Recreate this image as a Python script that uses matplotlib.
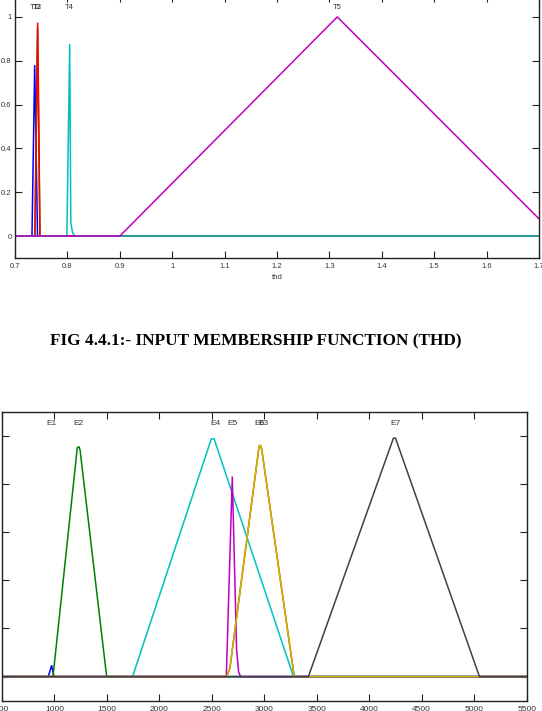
import matplotlib
matplotlib.use("Agg")
import matplotlib.pyplot as plt
import numpy as np

# ---------------- data: THD input membership functions ----------------
thd_range = [0.7, 1.7]
T1_x = [0.7, 0.7324, 0.7376, 0.7430, 1.7]
T1_y = [0, 0, 0.78, 0, 0]
T2_x = [0.7, 0.7380, 0.7430, 0.7475, 1.7]
T2_y = [0, 0, 0.95, 0, 0]
T3_x = [0.7, 0.7380, 0.7433, 0.7477, 1.7]
T3_y = [0, 0, 0.974, 0, 0]
T4_x = [0.7, 0.7990, 0.8044, 0.8065, 0.8100, 0.8145, 1.7]
T4_y = [0, 0, 0.876, 0.06, 0.015, 0, 0]
T5_x = [0.7, 0.9, 1.315, 1.733]
T5_y = [0, 0, 1.0, 0]
thd_labels = ["T1", "T2", "T3", "T4", "T5"]
thd_label_x = [0.7376, 0.7415, 0.7433, 0.8044, 1.315]

# ---------------- data: second input membership functions ----------------
e_range = [500, 5500]
E1_x = [500, 942, 974, 996, 5500]
E1_y = [0, 0, 0.047, 0, 0]
E2_x = [500, 987, 1218, 1235, 1245, 1498, 5500]
E2_y = [0, 0, 0.95, 0.955, 0.94, 0, 0]
E3_x = [500, 2642, 2673, 2950, 2962, 2975, 3285, 5500]
E3_y = [0, 0, 0.037, 0.955, 0.961, 0.945, 0, 0]
E4_x = [500, 1745, 2495, 2522, 3278, 5500]
E4_y = [0, 0, 0.987, 0.987, 0, 0]
E5_x = [500, 2638, 2695, 2713, 2736, 2755, 2774, 5500]
E5_y = [0, 0, 0.831, 0.515, 0.113, 0.02, 0, 0]
E6_x = [500, 2642, 2673, 2950, 2962, 2975, 3285, 5500]
E6_y = [0, 0, 0.037, 0.955, 0.961, 0.945, 0, 0]
E7_x = [500, 3420, 4230, 4250, 5050, 5500]
E7_y = [0, 0, 0.99, 0.99, 0, 0]
e_labels = ["E1", "E2", "E3", "E4", "E5", "E6", "E7"]
e_label_x = [974, 1228, 2995, 2530, 2695, 2950, 4252]

caption = "FIG 4.4.1:- INPUT MEMBERSHIP FUNCTION (THD)"

# MATLAB classic colour order
mcolors = [(0, 0, 1), (0, 0.5, 0), (1, 0, 0), (0, 0.75, 0.75),
           (0.75, 0, 0.75), (0.75, 0.75, 0), (0.25, 0.25, 0.25)]

tick_font = ['Liberation Sans', 'DejaVu Sans']
plt.rcParams['font.family'] = tick_font

fig = plt.figure(figsize=(5.42, 7.11), dpi=100)
W, H = 542.0, 711.0


def style_axes(ax, fs, pad):
    for s in ax.spines.values():
        s.set_linewidth(1.0)
        s.set_color('#222222')
    ax.tick_params(direction='in', length=4.8, width=0.8, top=True, right=True,
                   labelsize=fs, pad=pad, colors='#222222', labelcolor='#333333')


# ---------------- top axes ----------------
ax1 = fig.add_axes([15 / W, (H - 258) / H, 524 / W, 263 / H])
curves1 = [(T1_x, T1_y), (T2_x, T2_y), (T3_x, T3_y), (T4_x, T4_y), (T5_x, T5_y)]
for i, (xs, ys) in enumerate(curves1):
    ax1.plot(xs, ys, color=mcolors[i], lw=1.1, solid_joinstyle='miter')
for lab, lx in zip(thd_labels, thd_label_x):
    ax1.text(lx, 1.045, lab, ha='center', va='center', fontsize=5.5, color='#333333')
ax1.set_xlim(*thd_range)
ax1.set_ylim(-0.1, 1.1)
ax1.set_xticks(np.round(np.arange(0.7, 1.71, 0.1), 1))
ax1.set_xticklabels(["0.7", "0.8", "0.9", "1", "1.1", "1.2", "1.3", "1.4", "1.5", "1.6", "1.7"])
ax1.set_yticks([0, 0.2, 0.4, 0.6, 0.8, 1])
ax1.set_yticklabels(["0", "0.2", "0.4", "0.6", "0.8", "1"])
style_axes(ax1, 5.5, 2.5)
ax1.tick_params(axis='x', pad=3.5)
ax1.set_xlabel("thd", fontsize=5.5, color='#333333', labelpad=3)

# ---------------- caption ----------------
fig.text(256 / W, 1 - 341.7 / H, caption, ha='center', va='center',
         fontsize=12.4, fontweight='bold', family=['Liberation Serif', 'DejaVu Serif'])

# ---------------- bottom axes ----------------
ax2 = fig.add_axes([1.9 / W, 10.3 / H, 524.8 / W, 289 / H])
curves2 = [(E1_x, E1_y), (E2_x, E2_y), (E3_x, E3_y), (E4_x, E4_y),
           (E5_x, E5_y), (E6_x, E6_y), (E7_x, E7_y)]
for i, (xs, ys) in enumerate(curves2):
    ax2.plot(xs, ys, color=mcolors[i], lw=1.1, solid_joinstyle='miter')
for lab, lx in zip(e_labels, e_label_x):
    ax2.text(lx, 1.049, lab, ha='center', va='center', fontsize=6, color='#333333')
ax2.set_xlim(*e_range)
ax2.set_ylim(-0.1, 1.1)
ax2.set_xticks(np.arange(500, 5501, 500))
ax2.set_yticks([0, 0.2, 0.4, 0.6, 0.8, 1])
ax2.set_yticklabels([])
style_axes(ax2, 6, 4.0)

fig.savefig("out.png", dpi=100)
